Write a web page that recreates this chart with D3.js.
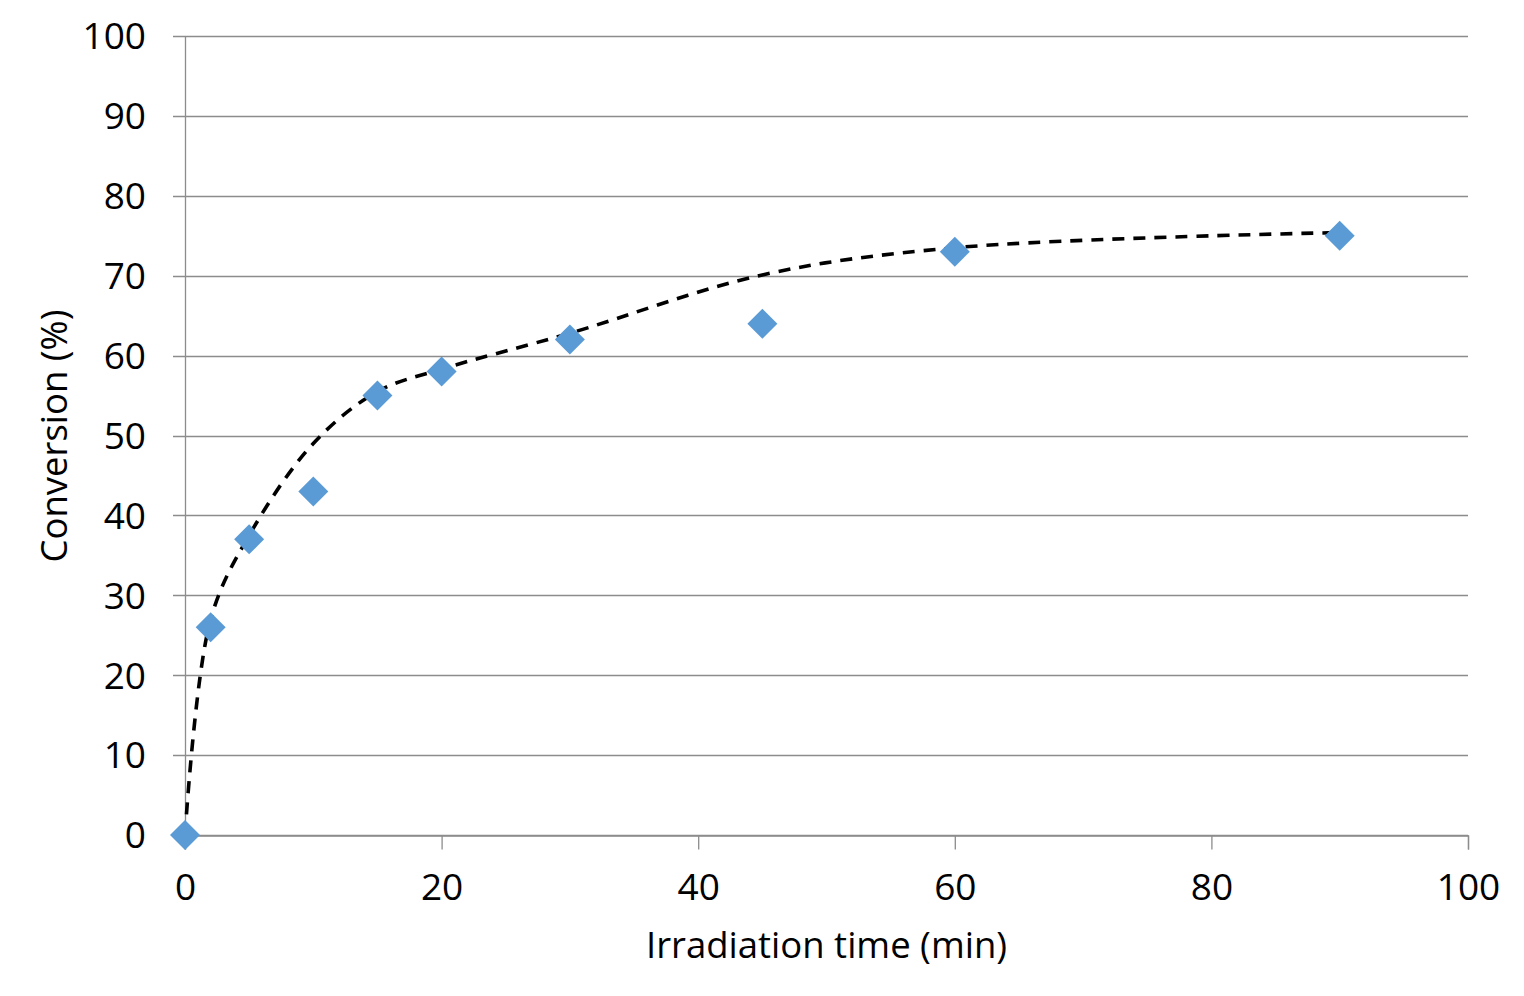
<!DOCTYPE html>
<html>
<head>
<meta charset="utf-8">
<script src="https://cdn.jsdelivr.net/npm/d3@7"></script>
<style>
  body { margin: 0; background: #fff; }
  text { font-family: "Open Sans", "DejaVu Sans", sans-serif; fill: #000; }
</style>
</head>
<body>
<div id="chart"></div>
<script>
// measured conversion
const time_min = [0, 2, 5, 10, 15, 20, 30, 45, 60, 90];
const conversion = [0, 26, 37, 43, 55, 58, 62, 64, 73, 75];
// dashed model curve
const model_conversion = [0, 27, 37.5, 49, 55.5, 58.3, 62.8, 70.1, 73.5, 75.4];

const x_ticks = [0, 20, 40, 60, 80, 100];
const y_ticks = [0, 10, 20, 30, 40, 50, 60, 70, 80, 90, 100];

let margin = {top: 36, right: 56, bottom: 161, left: 185},
    width = 1524 - margin.left - margin.right,
    height = 996 - margin.top - margin.bottom;

let svg = d3.select("#chart").append("svg")
  .attr("width", 1524)
  .attr("height", 996)
  .append("g")
  .attr("transform", "translate(" + margin.left + "," + margin.top + ")");

let xScale = d3.scaleLinear().domain([0, 100]).range([0, width]);
let yScale = d3.scaleLinear().domain([0, 100]).range([height, 0]);

let gridColor = "#8c8c8c";

// horizontal gridlines (also form the y tick marks)
svg.append("g")
  .selectAll("line")
  .data(y_ticks)
  .enter().append("line")
  .attr("x1", -12)
  .attr("x2", width)
  .attr("y1", d => Math.round(yScale(d)) + 0.5)
  .attr("y2", d => Math.round(yScale(d)) + 0.5)
  .attr("stroke", gridColor)
  .attr("stroke-width", 1.3);

// y axis line
svg.append("line")
  .attr("x1", 0.5).attr("x2", 0.5)
  .attr("y1", 0).attr("y2", height)
  .attr("stroke", gridColor)
  .attr("stroke-width", 1.3);

// x axis
let xAxis = d3.axisBottom(xScale).tickValues(x_ticks).tickSize(14).tickPadding(24);
let gx = svg.append("g")
  .attr("transform", "translate(0," + (Math.round(height) + 0.5) + ")")
  .call(xAxis);
gx.select(".domain").attr("stroke", gridColor).attr("stroke-width", 1.3);
gx.selectAll(".tick line").attr("stroke", gridColor).attr("stroke-width", 1.3);
gx.selectAll(".tick text")
  .style("font-size", "37px")
  .style("font-family", "'Open Sans', sans-serif")
  .attr("fill", "#000")
  .attr("dy", "0.72em");

// y tick labels
svg.append("g")
  .selectAll("text")
  .data(y_ticks)
  .enter().append("text")
  .attr("x", -39)
  .attr("y", d => yScale(d))
  .attr("dy", "0.36em")
  .style("text-anchor", "end")
  .style("font-size", "37px")
  .text(d => d);

// model curve
let line = d3.line()
  .x(d => xScale(d[0]))
  .y(d => yScale(d[1]))
  .curve(d3.curveCatmullRom.alpha(0.5));

svg.append("path")
  .datum(time_min.map((t, i) => [t, model_conversion[i]]))
  .attr("d", line)
  .attr("fill", "none")
  .attr("stroke", "#000")
  .attr("stroke-width", 3.6)
  .style("stroke-dasharray", "12, 9");

// markers
let diamond = d3.symbol().type(d3.symbolSquare).size(450);
svg.append("g")
  .selectAll("path")
  .data(time_min.map((t, i) => [t, conversion[i]]))
  .enter().append("path")
  .attr("d", diamond)
  .attr("transform", d => "translate(" + xScale(d[0]) + "," + yScale(d[1]) + ") rotate(45)")
  .attr("fill", "#5b9bd5");

// axis titles
svg.append("text")
  .attr("x", xScale(50))
  .attr("y", height + 123)
  .style("text-anchor", "middle")
  .style("font-size", "36.5px")
  .text("Irradiation time (min)");

svg.append("text")
  .attr("transform", "rotate(-90)")
  .attr("x", -(436 - margin.top))
  .attr("y", 67 - margin.left)
  .style("text-anchor", "middle")
  .style("font-size", "36.5px")
  .text("Conversion (%)");
</script>
</body>
</html>
